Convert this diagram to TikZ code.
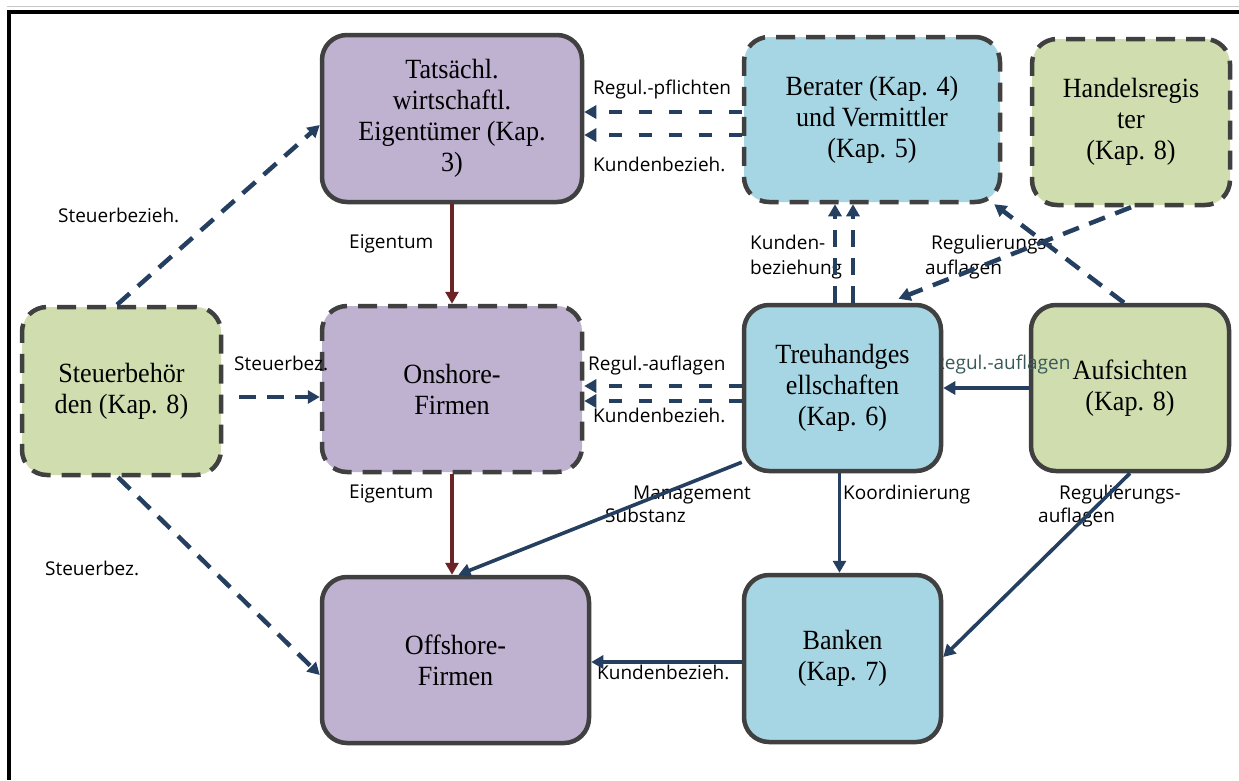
\documentclass[tikz,border=0pt]{standalone}
\usepackage{fontspec}
\setmainfont[FakeStretch=0.94]{Liberation Serif}
\newfontfamily\labfont{Open Sans}
\usetikzlibrary{arrows.meta}
\definecolor{pur}{HTML}{BFB1D0}
\definecolor{blu}{HTML}{A6D5E3}
\definecolor{grn}{HTML}{D0DEAF}
\definecolor{bord}{HTML}{404040}
\definecolor{navy}{HTML}{243F60}
\definecolor{dred}{HTML}{6B2323}
\definecolor{lblteal}{HTML}{3A5A5A}
\tikzset{
  box/.style={rounded corners=25pt, draw=bord, line width=4.5pt, inner sep=0pt, align=center,
    font=\fontsize{27.8}{31}\selectfont},
  dbox/.style={box, dash pattern=on 19pt off 11pt},
  conn/.style={draw=navy, line width=3.6pt, -{Triangle[length=12pt,width=13pt]}},
  dconn/.style={conn, line width=4.5pt, dash pattern=on 17pt off 11pt},
  hconn/.style={conn, line width=4.3pt, dash pattern=on 13pt off 17pt},
  eig/.style={draw=dred, line width=3.6pt, -{Triangle[length=12pt,width=13pt]}},
  lab/.style={font=\labfont\fontsize{19}{22}\selectfont, inner sep=0pt, anchor=base west}
}
\begin{document}
\begin{tikzpicture}[x=1pt,y=-1pt]
\useasboundingbox (0,0) rectangle (1239,780);
\fill[white] (0,0) rectangle (1239,780);
% frame
\draw[gray!45, line width=1.5pt] (7,6.5) -- (1239,6.5);
\draw[black, line width=4pt] (9,780) -- (9,11.5) -- (1239,11.5);

% boxes
\node[box, fill=pur, minimum width=260pt, minimum height=167pt] (T) at (452,118.5) {Tatsächl.\\wirtschaftl.\\Eigentümer (Kap.\\3)};
\node[dbox, fill=blu, minimum width=256pt, minimum height=165pt] (B) at (872,119.5) {Berater (Kap. 4)\\und Vermittler\\(Kap. 5)};
\node[dbox, fill=grn, minimum width=198pt, minimum height=166pt] (H) at (1131,122) {Handelsregis\\ter\\(Kap. 8)};
\node[dbox, fill=grn, minimum width=199pt, minimum height=168pt] (S) at (121.5,391) {Steuerbehör\\den (Kap. 8)};
\node[dbox, fill=pur, minimum width=260pt, minimum height=166pt] (O) at (452,389) {Onshore-\\Firmen};
\node[box, fill=grn, minimum width=198pt, minimum height=166pt] (A) at (1130,388) {Aufsichten\\(Kap. 8)};
\node[lab, text=lblteal] (l12) at (933,369) {Regul.-auflagen};
\node[box, fill=blu, minimum width=197pt, minimum height=166pt] (Tr) at (842.5,388) {Treuhandges\\ellschaften\\(Kap. 6)};
\node[box, fill=pur, minimum width=267pt, minimum height=166pt] (Of) at (455.5,660) {Offshore-\\Firmen};
\node[box, fill=blu, minimum width=197pt, minimum height=167pt] (Bk) at (842.5,658.5) {Banken\\(Kap. 7)};

% labels
\node[lab] (l1) at (58,222) {Steuerbezieh.};
\node[lab] (l2) at (234,370) {Steuerbez.};
\node[lab] (l3) at (45,575) {Steuerbez.};
\node[lab] (l4) at (349,248) {Eigentum};
\node[lab] (l5) at (349,498) {Eigentum};
\node[lab] (l6) at (593,94) {Regul.-pflichten};
\node[lab] (l7) at (593,171) {Kundenbezieh.};
\node[lab] (l8) at (750,249) {Kunden-};
\node[lab] (l9) at (750,274) {beziehung};
\node[lab] (l10) at (931,249) {Regulierungs-};
\node[lab] (l11) at (925,274) {auflagen};
\node[lab] (l13) at (588,370) {Regul.-auflagen};
\node[lab] (l14) at (593,422) {Kundenbezieh.};
\node[lab] (l15) at (633,499) {Management};
\node[lab] (l16) at (605,522) {Substanz};
\node[lab] (l17) at (843,499) {Koordinierung};
\node[lab] (l18) at (1059,499) {Regulierungs-};
\node[lab] (l19) at (1038,522) {auflagen};
\node[lab] (l20) at (597,679) {Kundenbezieh.};

% connectors
\draw[dconn] ([xshift=-4.5pt]S.north) -- ([yshift=-6.5pt]T.west);
\draw[dconn, shorten <=16pt] ([yshift=-6pt]S.east) -- ([yshift=-6pt]S.east -| O.west);
\draw[dconn] ([xshift=-3.5pt]S.south) -- ([yshift=-15pt]Of.west);
\draw[eig] (T.south) -- (O.north);
\draw[eig] (O.south) -- (O.south |- Of.north);
\draw[hconn] ([yshift=7.5pt]B.west) -- ([yshift=7.5pt]B.west -| T.east);
\draw[hconn] ([yshift=-15.5pt]B.west) -- ([yshift=-15.5pt]B.west -| T.east);
\draw[hconn] ([yshift=2pt]Tr.west) -- ([yshift=2pt]Tr.west -| O.east);
\draw[hconn] ([yshift=-13pt]Tr.west) -- ([yshift=-13pt]Tr.west -| O.east);
\draw[dconn] ([xshift=-7.5pt]Tr.north) -- ([xshift=-7.5pt]Tr.north |- B.south);
\draw[dconn] ([xshift=10.5pt]Tr.north) -- ([xshift=10.5pt]Tr.north |- B.south);
\draw[dconn] (H.south) -- ([xshift=56pt,yshift=4pt]Tr.north);
\draw[dconn] ([xshift=-6pt]A.north) -- ([xshift=-8pt]B.south east);
\draw[conn] (A.west) -- (A.west -| Tr.east);
\draw[conn] ([xshift=-3pt]Tr.south) -- ([xshift=-3pt]Tr.south |- Bk.north);
\draw[conn] ([yshift=11pt]Tr.south west) -- ([xshift=3pt]Of.north);
\draw[conn] (A.south) -- ([yshift=1.5pt]Bk.east);
\draw[conn] ([yshift=-3.5pt]Bk.west) -- ([yshift=-3.5pt]Bk.west -| Of.east);
\end{tikzpicture}
\end{document}
